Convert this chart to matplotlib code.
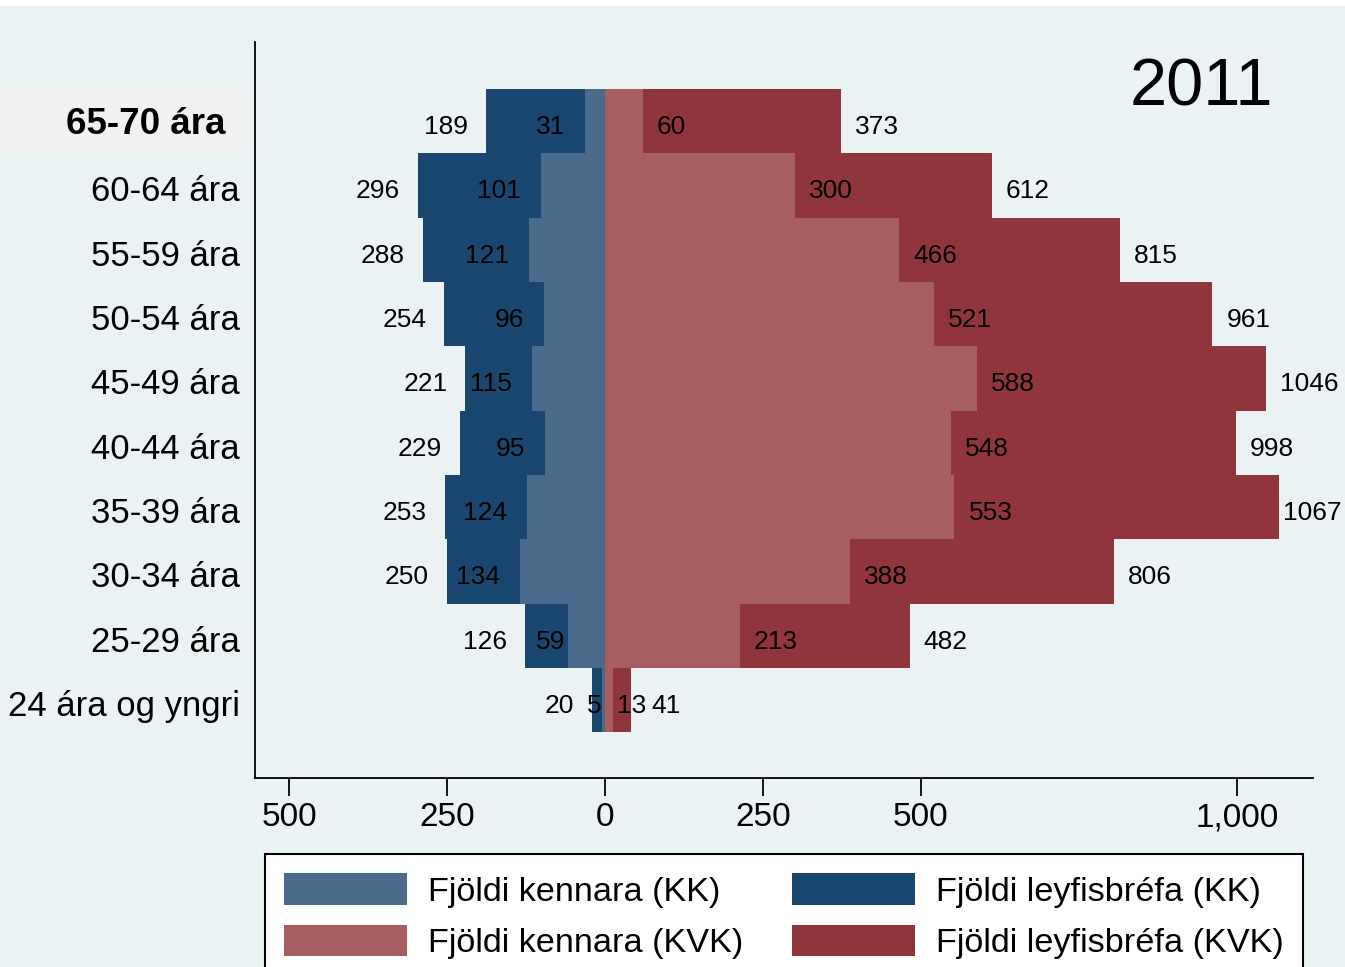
import matplotlib
matplotlib.use("Agg")
import matplotlib.pyplot as plt
import matplotlib.transforms as mtransforms
from matplotlib.patches import Patch, Rectangle

# ============================================================
# DATA  (index 0 = youngest group, bottom of chart)
# ============================================================

age_groups = ["24 ára og yngri", "25-29 ára", "30-34 ára", "35-39 ára", "40-44 ára",
              "45-49 ára", "50-54 ára", "55-59 ára", "60-64 ára", "65-70 ára"]

kennarar_kk  = [5, 59, 134, 124, 95, 115, 96, 121, 101, 31]
leyfi_kk     = [20, 126, 250, 253, 229, 221, 254, 288, 296, 189]
kennarar_kvk = [13, 213, 388, 553, 548, 588, 521, 466, 300, 60]
leyfi_kvk    = [41, 482, 806, 1067, 998, 1046, 961, 815, 612, 373]

x_ticks       = [-500, -250, 0, 250, 500, 1000]
x_tick_labels = ["500", "250", "0", "250", "500", "1,000"]

legend_labels = ["Fjöldi kennara (KK)", "Fjöldi kennara (KVK)",
                 "Fjöldi leyfisbréfa (KK)", "Fjöldi leyfisbréfa (KVK)"]
year_label = "2011"

# ============================================================
# STYLE
# ============================================================

BG         = "#eaf2f3"
LIGHT_BLUE = "#4a6b8b"
DARK_BLUE  = "#1a476f"
LIGHT_RED  = "#a65e60"
DARK_RED   = "#90353b"

W, H, DPI = 1345, 967, 100

# label gaps (pixels) from the bar end; a few labels sit tighter in the original
PAD_OUT_L, PAD_OUT_R, PAD_IN_L, PAD_IN_R = 18, 14, 20, 14
pad_overrides = {("in_l", 0): 0, ("in_l", 1): 2, ("in_r", 0): 4,
                 ("out_r", 0): 20, ("out_r", 3): 4}

plt.rcParams["font.family"] = ["Liberation Sans", "DejaVu Sans"]


def fx(px):
    return px / W


def fy(px):
    return 1 - px / H


fig = plt.figure(figsize=(W / DPI, H / DPI), dpi=DPI, facecolor="white")
fig.patches.append(Rectangle((0, 0), 1, fy(6), transform=fig.transFigure,
                             facecolor=BG, edgecolor="none", zorder=-10))
# highlight box behind the top category label
fig.patches.append(Rectangle((0, fy(152)), fx(245), 64 / H, transform=fig.transFigure,
                             facecolor="#f1f1f1", edgecolor="none", zorder=-5))

ax = fig.add_axes([fx(255), fy(778), fx(1313 - 255), (778 - 42) / H])
ax.set_facecolor(BG)

y = list(range(len(age_groups)))

ax.barh(y, [-v for v in leyfi_kk], height=1.0, color=DARK_BLUE, linewidth=0)
ax.barh(y, [-v for v in kennarar_kk], height=1.0, color=LIGHT_BLUE, linewidth=0)
ax.barh(y, leyfi_kvk, height=1.0, color=DARK_RED, linewidth=0)
ax.barh(y, kennarar_kvk, height=1.0, color=LIGHT_RED, linewidth=0)

# value labels
LBL = 19
DY = -6
for i in y:
    specs = [("out_l", -leyfi_kk[i], leyfi_kk[i], -PAD_OUT_L, "right"),
             ("out_r", leyfi_kvk[i], leyfi_kvk[i], PAD_OUT_R, "left"),
             ("in_l", -kennarar_kk[i], kennarar_kk[i], -PAD_IN_L, "right"),
             ("in_r", kennarar_kvk[i], kennarar_kvk[i], PAD_IN_R, "left")]
    for key, xpos, val, pad, ha in specs:
        if (key, i) in pad_overrides:
            pad = pad_overrides[(key, i)] * (1 if ha == "left" else -1)
        ax.annotate(str(val), (xpos, i), xytext=(pad, DY), textcoords="offset pixels",
                    ha=ha, va="center", fontsize=LBL)

ax.set_xlim(-553.8, 1120.3)
ax.set_ylim(-1.21, 10.23)

ax.set_xticks(x_ticks)
ax.set_xticklabels(x_tick_labels, fontsize=24)
ax.set_yticks(y)
ax.set_yticklabels(age_groups[:-1] + [""], fontsize=25)
ax.tick_params(axis="x", length=13, width=1.3, pad=4.5, color="black")
ax.tick_params(axis="y", length=0, pad=10.8)

shift = mtransforms.ScaledTranslation(0, -3 / DPI, fig.dpi_scale_trans)
for lbl in ax.get_yticklabels():
    lbl.set_transform(lbl.get_transform() + shift)

for side in ["top", "right"]:
    ax.spines[side].set_visible(False)
for side in ["left", "bottom"]:
    ax.spines[side].set_linewidth(1.3)
    ax.spines[side].set_color("black")

# top category label, bold with highlight
fig.text(fx(226), fy(124), age_groups[-1], ha="right", va="center",
         fontsize=26.5, fontweight="bold")

ax.text(0.962, 0.914, year_label, transform=ax.transAxes, ha="right",
        va="baseline", fontsize=48)

handles = [Patch(facecolor=LIGHT_BLUE, edgecolor="none"),
           Patch(facecolor=LIGHT_RED, edgecolor="none"),
           Patch(facecolor=DARK_BLUE, edgecolor="none"),
           Patch(facecolor=DARK_RED, edgecolor="none")]

LEGEND_SIZE = 24.7
em = LEGEND_SIZE * DPI / 72
leg = fig.legend(handles, legend_labels, ncol=2, loc="upper left",
                 bbox_to_anchor=(fx(265), fy(855), fx(1303 - 265), 0.001),
                 mode="expand", borderaxespad=0, fancybox=False, framealpha=1,
                 facecolor="white", edgecolor="black",
                 prop={"size": LEGEND_SIZE},
                 handlelength=123 / em, handleheight=36 / em,
                 handletextpad=21 / em, borderpad=19 / em,
                 labelspacing=17 / em, columnspacing=1.0)
leg.get_frame().set_linewidth(1.5)

fig.savefig("out.png", dpi=DPI, facecolor=fig.get_facecolor())
